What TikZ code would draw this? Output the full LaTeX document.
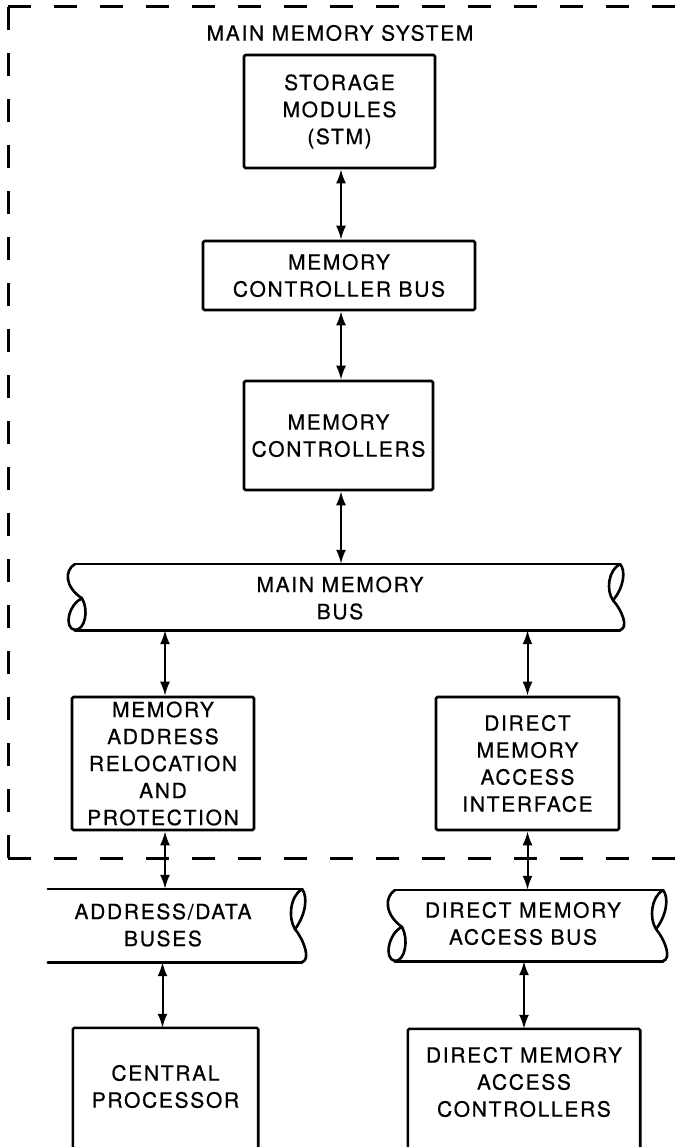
\documentclass[tikz,border=0pt]{standalone}
\usepackage{fontspec}
\setmainfont{TeX Gyre Heros}[LetterSpace=8,FakeBold=0.6]
\usetikzlibrary{arrows.meta}
\newcommand\busleftend[3]{% x, top, bottom
  \draw[busline] (#1,#2) .. controls ({#1-11},{#2+0.1*(#3-#2)}) and ({#1-10},{#2+0.35*(#3-#2)}) .. ({#1+7},{#2+0.52*(#3-#2)});
  \draw[busline] ({#1+7},{#2+0.52*(#3-#2)}) .. controls ({#1+14},{#2+0.7*(#3-#2)}) and ({#1+10},{#3}) .. (#1,#3);
  \draw[busline] ({#1+7},{#2+0.52*(#3-#2)}) .. controls ({#1-6},{#2+0.6*(#3-#2)}) and ({#1-12},{#3-2}) .. (#1,#3);
}
\newcommand\busrightend[3]{% x, top, bottom
  \draw[busline] (#1,#2) .. controls ({#1+6},{#2+0.1*(#3-#2)}) and ({#1+4},{#2+0.35*(#3-#2)}) .. ({#1-7},{#2+0.55*(#3-#2)});
  \draw[busline] (#1,#2) .. controls ({#1-12},{#2+0.1*(#3-#2)}) and ({#1-14},{#2+0.4*(#3-#2)}) .. ({#1-7},{#2+0.55*(#3-#2)});
  \draw[busline] ({#1-7},{#2+0.55*(#3-#2)}) .. controls ({#1+2},{#2+0.7*(#3-#2)}) and ({#1+9},{#3-2}) .. (#1,#3);
}
\begin{document}
\begin{tikzpicture}[x=1pt,y=-1pt,
  txt/.style={font=\fontsize{21}{27}\selectfont, align=center, inner sep=0pt},
  box/.style={txt, draw, line width=2.6pt, rounded corners=1.5pt},
  openbox/.style={txt},
  boxline/.style={line width=2.6pt, rounded corners=1.5pt},
  bus/.style={inner sep=0pt},
  busline/.style={line width=2.6pt, line cap=round, line join=round},
  link/.style={{Latex[length=14pt,width=10pt]}-{Latex[length=14pt,width=10pt]}, line width=2pt},
  frame/.style={line width=3pt, dash pattern=on 23pt off 23pt}]
\useasboundingbox (0,0) rectangle (689,1147);
\clip (0,0) rectangle (689,1147);
\fill[white] (0,0) rectangle (689,1147);

% dashed frame of the main memory system
\draw[frame] (8,7) -- (689,7);
\draw[frame] (8,7) -- (8,858);
\draw[frame] (8,858) -- (689,858);

\node[txt] (title) at (340,33) {MAIN MEMORY SYSTEM};

% boxes
\node[box, minimum width=191pt, minimum height=113pt] (stm) at (339.5,111.5) {STORAGE\\MODULES\\(STM)};
\node[box, minimum width=272pt, minimum height=69pt] (mcb) at (339,275.5) {MEMORY\\CONTROLLER BUS};
\node[box, minimum width=189pt, minimum height=109pt] (mc) at (338.5,435.5) {MEMORY\\CONTROLLERS};
\node[box, minimum width=182pt, minimum height=133pt] (marp) at (163,763.5) {MEMORY\\ADDRESS\\RELOCATION\\AND\\PROTECTION};
\node[box, minimum width=183pt, minimum height=133pt] (dmai) at (527.5,763.5) {DIRECT\\MEMORY\\ACCESS\\INTERFACE};

% open-bottom boxes
\node[openbox, minimum width=185pt, minimum height=117pt] (cp) at (165.5,1086.5) {CENTRAL\\PROCESSOR};
\draw[boxline] ([yshift=-30pt]cp.south west) -- (cp.north west) -- (cp.north east) -- ([yshift=-30pt]cp.south east);
\node[openbox, minimum width=232pt, minimum height=106pt] (dmac) at (524,1082) {DIRECT MEMORY\\ACCESS\\CONTROLLERS};
\draw[boxline] ([yshift=-40pt]dmac.south west) -- (dmac.north west) -- (dmac.north east) -- ([yshift=-40pt]dmac.south east);

% buses
\node[bus, minimum width=545pt, minimum height=66pt] (mmb) at (347.5,597) {};
\draw[busline] (mmb.north west) -- (mmb.north east) (mmb.south west) -- (mmb.south east);
\busleftend{75}{564}{630}
\busrightend{620}{564}{630}
\node[txt] (mmbt) at (340,598) {MAIN MEMORY\\BUS};

\node[bus, minimum width=254pt, minimum height=73pt] (adb) at (175,925.5) {};
\draw[busline] (adb.north west) -- (adb.north east) (adb.south west) -- (adb.south east);
\busrightend{302}{889}{962}
\node[txt] (adbt) at (163,925) {ADDRESS/DATA\\BUSES};

\node[bus, minimum width=268pt, minimum height=71pt] (dmab) at (529,925.5) {};
\draw[busline] (dmab.north west) -- (dmab.north east) (dmab.south west) -- (dmab.south east);
\busleftend{395}{890}{961}
\busrightend{663}{890}{961}
\node[txt] (dmabt) at (523,923.5) {DIRECT MEMORY\\ACCESS BUS};

% connectors
\draw[link] ([xshift=1.5pt]stm.south) -- ([xshift=1.5pt]stm.south |- mcb.north);
\draw[link] ([xshift=2pt]mcb.south) -- ([xshift=2pt]mcb.south |- mc.north);
\draw[link] ([xshift=2.5pt]mc.south) -- ([xshift=2.5pt]mc.south |- mmb.north);
\draw[link] ([xshift=2pt]marp.north |- mmb.south) -- ([xshift=2pt]marp.north);
\draw[link] (dmai.north |- mmb.south) -- (dmai.north);
\draw[link] ([xshift=2pt]marp.south) -- ([xshift=2pt]marp.south |- adb.north);
\draw[link] (dmai.south) -- (dmai.south |- dmab.north);
\draw[link] ([xshift=-3pt]cp.north |- adb.south) -- ([xshift=-3pt]cp.north);
\draw[link] (dmac.north |- dmab.south) -- (dmac.north);
\end{tikzpicture}
\end{document}
